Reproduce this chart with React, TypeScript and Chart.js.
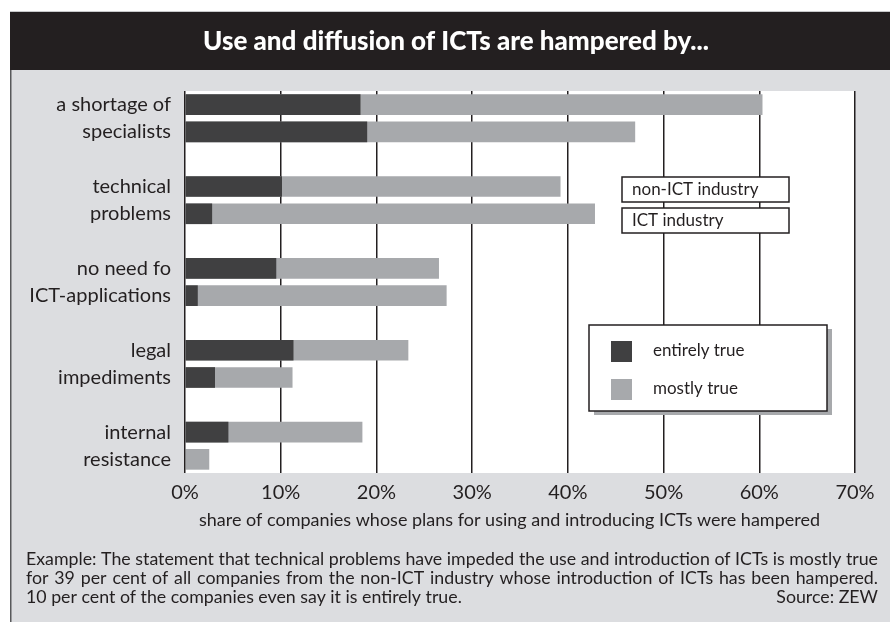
import { useEffect, useRef } from 'react';
import { Chart, registerables } from 'chart.js';

Chart.register(...registerables);

// ---------- data ----------
const categories: string[][] = [
  ['a shortage of', 'specialists'],
  ['technical', 'problems'],
  ['no need fo', 'ICT-applications'],
  ['legal', 'impediments'],
  ['internal', 'resistance'],
];
const industries = ['non-ICT industry', 'ICT industry'];
const seriesNames = ['entirely true', 'mostly true'];

// share of companies (%) — first bar of each pair: non-ICT industry, second: ICT industry
const nonIctEntirely = [18.3, 10.1, 9.5, 11.3, 4.5];
const nonIctMostly = [60.3, 39.2, 26.5, 23.3, 18.5];
const ictEntirely = [19.0, 2.8, 1.3, 3.1, 0];
const ictMostly = [47.0, 42.8, 27.3, 11.2, 2.5];

const xTicks = [0, 10, 20, 30, 40, 50, 60, 70];

const chartTitle = 'Use and diffusion of ICTs are hampered by...';
const axisTitle = 'share of companies whose plans for using and introducing ICTs were hampered';
const noteLines = [
  'Example: The statement that technical problems have impeded the use and introduction of ICTs is mostly true',
  'for 39 per cent of all companies from the non-ICT industry whose introduction of ICTs has been hampered.',
  '10 per cent of the companies even say it is entirely true.',
];
const sourceText = 'Source: ZEW';

// ---------- styles ----------
const DARK = '#404041';
const LIGHT = '#a7a9ac';
const INK = '#231f20';
const PANEL = '#dcdde0';
const FONT = 'Lato';

// rows: two bars per category and an empty row between categories
const rowLabels: string[] = [];
const rowEntirely: (number | null)[] = [];
const rowMostly: (number | null)[] = [];
categories.forEach((lines, i) => {
  rowLabels.push(lines[0], lines[1]);
  rowEntirely.push(nonIctEntirely[i], ictEntirely[i]);
  rowMostly.push(nonIctMostly[i], ictMostly[i]);
  if (i < categories.length - 1) {
    rowLabels.push('');
    rowEntirely.push(null);
    rowMostly.push(null);
  }
});

function justify(ctx: CanvasRenderingContext2D, text: string, x: number, y: number, width: number) {
  (ctx as any).wordSpacing = '0px';
  const w = ctx.measureText(text).width;
  const spaces = (text.match(/ /g) || []).length;
  if (w < width && spaces > 0) {
    (ctx as any).wordSpacing = `${(width - w) / spaces}px`;
    ctx.fillText(text, x, y);
    (ctx as any).wordSpacing = '0px';
  } else {
    ctx.fillText(text, x, y, width);
  }
}

const decorPlugin = {
  id: 'decor',
  beforeDraw(chart: any) {
    const { ctx, chartArea } = chart;
    ctx.save();
    ctx.fillStyle = '#ffffff';
    ctx.fillRect(0, 0, chart.width, chart.height);
    ctx.fillStyle = PANEL;
    ctx.fillRect(10, 70, chart.width - 10, chart.height - 70);
    ctx.fillStyle = '#c8c9cb';
    ctx.fillRect(10, 11, chart.width - 10, 1);
    ctx.fillStyle = INK;
    ctx.fillRect(10, 12, chart.width - 10, 58);
    ctx.fillStyle = '#58595b';
    ctx.fillRect(10, 70, 1.5, chart.height - 70);
    // plot area
    ctx.fillStyle = '#ffffff';
    ctx.fillRect(chartArea.left, chartArea.top, chartArea.right - chartArea.left, chartArea.bottom - chartArea.top);
    // title
    ctx.fillStyle = '#ffffff';
    ctx.font = `900 26px ${FONT}`;
    ctx.textAlign = 'center';
    ctx.textBaseline = 'middle';
    ctx.fillText(chartTitle, 456, 42, 561);
    ctx.restore();
  },
  afterDraw(chart: any) {
    const { ctx } = chart;
    ctx.save();
    ctx.fillStyle = INK;
    ctx.textBaseline = 'middle';
    // axis title
    ctx.font = `18px ${FONT}`;
    ctx.textAlign = 'center';
    ctx.fillText(axisTitle, 509.5, 520, 621);

    // industry boxes
    ctx.font = `17px ${FONT}`;
    ctx.lineWidth = 1.5;
    ctx.strokeStyle = INK;
    ctx.textAlign = 'left';
    const boxes = [177, 208];
    industries.forEach((name, i) => {
      ctx.fillStyle = '#ffffff';
      ctx.fillRect(622, boxes[i], 167, 25);
      ctx.strokeRect(622, boxes[i], 167, 25);
      ctx.fillStyle = INK;
      ctx.fillText(name, 632, boxes[i] + 13);
    });

    // legend
    ctx.fillStyle = LIGHT;
    ctx.fillRect(594, 329, 238, 86);
    ctx.fillStyle = '#ffffff';
    ctx.fillRect(589, 325, 238, 86);
    ctx.strokeRect(589, 325, 238, 86);
    const ys = [351, 389];
    seriesNames.forEach((name, i) => {
      ctx.fillStyle = chart.data.datasets[i].backgroundColor;
      ctx.fillRect(611, ys[i] - 10, 21, 21);
      ctx.fillStyle = INK;
      ctx.fillText(name, 653, ys[i]);
    });

    // footnote: size chosen so the first line fills the width
    ctx.font = `16px ${FONT}`;
    const w0 = ctx.measureText(noteLines[0]).width;
    const size = Math.min(19, (16 * 852) / w0);
    ctx.font = `${size}px ${FONT}`;
    ctx.fillStyle = INK;
    ctx.textAlign = 'left';
    justify(ctx, noteLines[0], 26, 559, 852);
    justify(ctx, noteLines[1], 26, 578, 852);
    ctx.fillText(noteLines[2], 26, 597);
    ctx.textAlign = 'right';
    ctx.fillText(sourceText, 878, 597);
    ctx.restore();
  },
};

export default function App() {
  const ref = useRef<HTMLCanvasElement | null>(null);
  useEffect(() => {
    if (!ref.current) return;
    const chart = new Chart(ref.current, {
      type: 'bar',
      data: {
        labels: rowLabels,
        datasets: [
          { label: seriesNames[0], data: rowEntirely, backgroundColor: DARK, grouped: false, barThickness: 20, order: 0 } as any,
          { label: seriesNames[1], data: rowMostly, backgroundColor: LIGHT, grouped: false, barThickness: 20, order: 1 } as any,
        ],
      },
      options: {
        indexAxis: 'y',
        responsive: false,
        animation: false,
        devicePixelRatio: 1,
        layout: { padding: { top: 91, right: 35, left: 0, bottom: 0 } },
        plugins: { legend: { display: false }, title: { display: false }, tooltip: { enabled: false } },
        scales: {
          x: {
            type: 'linear',
            min: xTicks[0],
            max: xTicks[xTicks.length - 1],
            afterBuildTicks: (s: any) => { s.ticks = xTicks.map((v) => ({ value: v })); },
            ticks: { callback: (v: any) => `${v}%`, color: INK, font: { family: FONT, size: 20 }, padding: 8 },
            grid: { color: INK, lineWidth: 1.5, drawTicks: false },
            border: { display: false },
            afterFit: (s: any) => { s.height = 149; },
          },
          y: {
            type: 'category',
            grid: { display: false },
            border: { display: false },
            ticks: { color: INK, font: { family: FONT, size: 20 }, padding: 6, autoSkip: false },
            afterFit: (s: any) => { s.width = 185; },
          },
        },
      },
      plugins: [decorPlugin],
    });
    return () => chart.destroy();
  }, []);
  return (
    <div style={{ position: 'absolute', left: 0, top: 0, width: 890, height: 622 }}>
      <canvas ref={ref} width={890} height={622} />
    </div>
  );
}
